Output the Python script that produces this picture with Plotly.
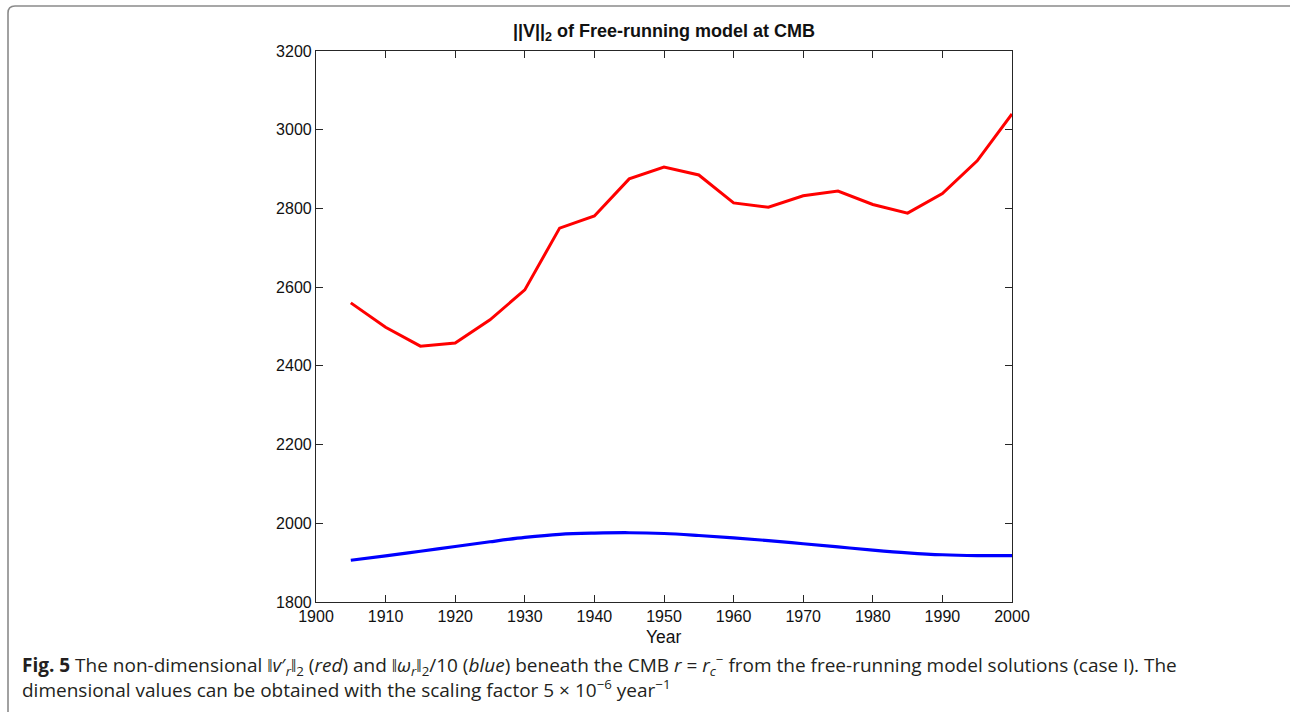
import plotly.graph_objects as go

years = [1905, 1910, 1915, 1920, 1925, 1930, 1935, 1940, 1945, 1950,
         1955, 1960, 1965, 1970, 1975, 1980, 1985, 1990, 1995, 2000]
v_red = [2560, 2498, 2450, 2458, 2517, 2593, 2750, 2781, 2875, 2905,
         2885, 2814, 2803, 2832, 2844, 2810, 2788, 2838, 2921, 3040]
w_blue = [1906, 1917, 1929, 1941, 1953, 1964, 1972, 1975, 1976, 1974,
          1969, 1963, 1956, 1948, 1940, 1932, 1925, 1920, 1918, 1918]

x_ticks = list(range(1900, 2001, 10))
y_ticks = list(range(1800, 3201, 200))

W, H = 1291, 712
L, R, T, B = 316, 1012, 51, 602

def px(x):
    return (x - L) / (R - L)

def py(y):
    return (B - y) / (B - T)

fig = go.Figure()
fig.add_trace(go.Scatter(x=years, y=v_red, mode="lines",
                         line=dict(color="#ff0000", width=3), showlegend=False))
fig.add_trace(go.Scatter(x=years, y=w_blue, mode="lines",
                         line=dict(color="#0000ff", width=3.2, shape="spline"),
                         showlegend=False))

axis_common = dict(showgrid=False, zeroline=False, showline=True, linecolor="#262626",
                   linewidth=1.2, mirror="allticks", ticks="inside", ticklen=7,
                   tickcolor="#262626", tickfont=dict(family="Liberation Sans", size=16, color="#111"))

fig.update_xaxes(range=[1900, 2000], tickvals=x_ticks, ticklabelstandoff=0, **axis_common)
fig.update_yaxes(range=[1800, 3200], tickvals=y_ticks, **axis_common)

fig.add_annotation(text="Year", xref="paper", yref="paper", x=0.5, y=py(625),
                   xanchor="center", yanchor="top", showarrow=False,
                   font=dict(family="Liberation Sans", size=17.5, color="#111"))

r = 7
x0, y0, x1, y1 = 8, 6, 1290, 730
path = (f"M {px(x0)},{py(y1)} L {px(x0)},{py(y0 + r)} "
        f"Q {px(x0)},{py(y0)} {px(x0 + r)},{py(y0)} L {px(x1)},{py(y0)}")
fig.add_shape(type="path", path=path, xref="paper", yref="paper",
              line=dict(color="#8a8a8a", width=1.6))

caption = ("<b>Fig. 5</b> The non-dimensional ‖<i>v</i>′<sub><i>r</i></sub>‖<sub>2</sub> (<i>red</i>) "
           "and ‖<i>ω</i><sub><i>r</i></sub>‖<sub>2</sub>/10 (<i>blue</i>) beneath the CMB "
           "<i>r</i> = <i>r</i><sub><i>c</i></sub><sup>−</sup> from the free-running model solutions (case I). The"
           "<br>dimensional values can be obtained with the scaling factor 5 × 10<sup>−6</sup> year<sup>−1</sup>")
fig.add_annotation(text=caption, xref="paper", yref="paper", x=px(20), y=py(648),
                   xanchor="left", yanchor="top", align="left", showarrow=False,
                   font=dict(family="Open Sans", size=19, color="#231f20"))

fig.update_layout(
    width=W, height=H,
    margin=dict(l=L, r=W - R, t=T, b=H - B),
    paper_bgcolor="white", plot_bgcolor="white",
    title=dict(text="<b>||V||<sub>2</sub> of Free-running model at CMB</b>",
               x=0.5 * (L + R) / W, xanchor="center", y=1 - 31 / H, yanchor="middle",
               font=dict(family="Liberation Sans", size=18, color="#111")),
)

fig.write_html("out.html", config={"displayModeBar": False},
               post_script="document.body.style.margin='0';document.body.style.padding='0';")
